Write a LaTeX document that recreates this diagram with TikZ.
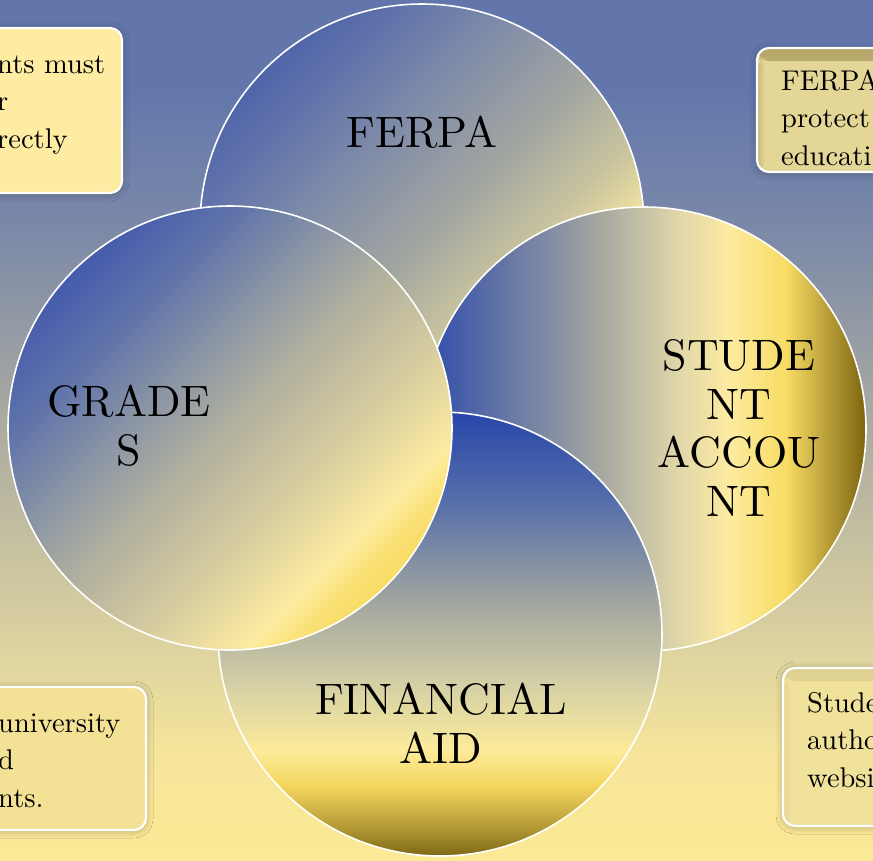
\documentclass[tikz,border=0pt]{standalone}
\usepackage{fontspec}
\setmainfont{lmroman10-regular.otf}
\usetikzlibrary{shadows.blur}
% background
\definecolor{bgA}{RGB}{252,233,150}
\definecolor{bgB}{RGB}{246,229,154}
\definecolor{bgC}{RGB}{222,212,160}
\definecolor{bgD}{RGB}{172,172,160}
\definecolor{bgE}{RGB}{122,136,168}
\definecolor{bgF}{RGB}{98,118,172}
\pgfdeclareverticalshading{bgshade}{100bp}{color(0bp)=(bgA); color(25bp)=(bgA); color(31bp)=(bgB); color(37bp)=(bgC); color(50bp)=(bgD); color(62bp)=(bgE); color(70bp)=(bgF); color(100bp)=(bgF)}
% FERPA
\definecolor{fA}{RGB}{80,100,170}
\definecolor{fB}{RGB}{100,118,170}
\definecolor{fC}{RGB}{128,140,168}
\definecolor{fD}{RGB}{165,168,160}
\definecolor{fE}{RGB}{200,195,158}
\definecolor{fF}{RGB}{238,224,160}
\definecolor{fG}{RGB}{250,232,158}
\pgfdeclarehorizontalshading{ferpashade}{100bp}{color(0bp)=(fA); color(25bp)=(fA); color(32bp)=(fB); color(40bp)=(fC); color(52bp)=(fD); color(60bp)=(fE); color(66bp)=(fF); color(75bp)=(fG); color(100bp)=(fG)}
% GRADES
\definecolor{gA}{RGB}{70,92,172}
\definecolor{gB}{RGB}{95,115,170}
\definecolor{gC}{RGB}{140,150,165}
\definecolor{gD}{RGB}{178,177,158}
\definecolor{gE}{RGB}{215,205,160}
\definecolor{gF}{RGB}{240,225,160}
\definecolor{gG}{RGB}{252,236,160}
\definecolor{gH}{RGB}{250,225,120}
\definecolor{gI}{RGB}{248,220,100}
\pgfdeclarehorizontalshading{gradeshade}{100bp}{color(0bp)=(gA); color(25bp)=(gA); color(33bp)=(gB); color(42bp)=(gC); color(50bp)=(gD); color(60bp)=(gE); color(66bp)=(gF); color(69bp)=(gG); color(72bp)=(gH); color(75bp)=(gI); color(100bp)=(gI)}
% STUDENT ACCOUNT
\definecolor{sA}{RGB}{45,75,170}
\definecolor{sB}{RGB}{110,125,165}
\definecolor{sC}{RGB}{165,168,160}
\definecolor{sD}{RGB}{225,215,170}
\definecolor{sE}{RGB}{252,235,160}
\definecolor{sF}{RGB}{248,220,100}
\definecolor{sG}{RGB}{125,100,15}
\pgfdeclarehorizontalshading{studshade}{100bp}{color(0bp)=(sA); color(25bp)=(sA); color(36bp)=(sB); color(45bp)=(sC); color(54bp)=(sD); color(59.6bp)=(sE); color(66bp)=(sF); color(75bp)=(sG); color(100bp)=(sG)}
% FINANCIAL AID (vertical: 0bp bottom)
\definecolor{aA}{RGB}{40,70,170}
\definecolor{aB}{RGB}{85,110,170}
\definecolor{aC}{RGB}{160,165,160}
\definecolor{aD}{RGB}{215,210,165}
\definecolor{aE}{RGB}{252,235,155}
\definecolor{aF}{RGB}{245,215,95}
\definecolor{aG}{RGB}{175,150,50}
\definecolor{aH}{RGB}{125,103,22}
\pgfdeclareverticalshading{aidshade}{100bp}{color(0bp)=(aH); color(25bp)=(aH); color(28bp)=(aG); color(33bp)=(aF); color(37bp)=(aE); color(43.8bp)=(aD); color(53.9bp)=(aC); color(65bp)=(aB); color(75bp)=(aA); color(100bp)=(aA)}
% boxes
\definecolor{bxTL}{RGB}{253,236,162}
\definecolor{bxBL}{RGB}{243,226,150}
\definecolor{bxBR}{RGB}{240,225,155}
\definecolor{bxTR}{RGB}{228,214,150}
\definecolor{shTR}{RGB}{180,165,105}
\definecolor{shBR}{RGB}{222,208,145}
\tikzset{
  venn/.style={circle, inner sep=0pt, minimum size=444pt, draw=white, line width=1.6pt},
  infobox/.style={rectangle, rounded corners=12pt, draw=white, line width=2.2pt, inner sep=0pt,
    blur shadow={shadow xshift=0pt, shadow yshift=-1pt, shadow blur radius=7pt, shadow opacity=30}},
  innershade/.style 2 args={path picture={
    \shade[top color=#1, bottom color=#2] (path picture bounding box.north west) rectangle ([yshift=-13pt]path picture bounding box.north east);
    \shade[left color=#1, right color=#2, opacity=0.6] ([yshift=-10pt]path picture bounding box.north west) rectangle ([xshift=8pt]path picture bounding box.south west);
  }},
  title/.style={align=center, inner sep=0pt, font=\fontsize{44}{48.5}\selectfont},
  boxtext/.style={align=left, inner sep=0pt, font=\fontsize{28.5}{37.5}\selectfont},
}
\begin{document}
\begin{tikzpicture}[x=1pt,y=-1pt]
\useasboundingbox (0,0) rectangle (873,860);
\shade[shading=bgshade] (0,0) rectangle (873,860);
% info boxes
\node[infobox, fill=bxTL, minimum width=152pt, minimum height=165pt] (boxtl) at (46,110.5) {};
\node[infobox, fill=bxTR, innershade={shTR}{bxTR}, minimum width=153pt, minimum height=124pt] (boxtr) at (833.5,110) {};
\node[infobox, fill=bxBL, minimum width=176pt, minimum height=143pt] (boxbl) at (58,758.5) {};
\node[infobox, fill=bxBR, innershade={shBR}{bxBR}, minimum width=127pt, minimum height=158pt] (boxbr) at (846.5,747) {};
\node[boxtext, anchor=base west] (ttl) at (-3,148) {nts must\\r\\rectly};
\node[boxtext, anchor=base west] (ttr) at (781,165) {FERPA\\protect\\educati};
\node[boxtext, anchor=base west] (tbl) at (-2,807) {university\\d\\nts.};
\node[boxtext, anchor=base west] (tbr) at (807,787) {Stude\\autho\\websi};
% circles
\node[venn, shading=ferpashade, shading angle=-45] (ferpa) at (422,226) {};
\node[venn, shading=studshade] (stud) at (644,429) {};
\node[venn, shading=aidshade] (aid) at (440,634) {};
\node[venn, shading=gradeshade, shading angle=-45] (grades) at (230,428) {};
% titles
\node[title, anchor=base] (tferpa) at (422,147) {FERPA};
\node[title, anchor=base] (tgrades) at (129,465) {GRADE\\S};
\node[title, anchor=base] (tstud) at (739,516) {STUDE\\NT\\ACCOU\\NT};
\node[title, anchor=base] (taid) at (441,763) {FINANCIAL\\AID};
\end{tikzpicture}
\end{document}
